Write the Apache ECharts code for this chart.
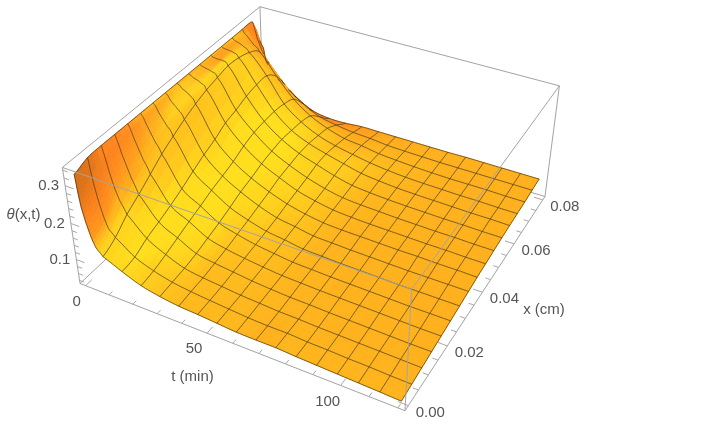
<!DOCTYPE html>
<html>
<head>
<meta charset="utf-8">
<style>html,body{margin:0;padding:0;background:#fff}#chart{width:726px;height:446px}</style>
<script src="https://cdn.jsdelivr.net/npm/echarts@6/dist/echarts.min.js"></script>
</head>
<body>
<div id="chart"></div>
<script>
// Moisture content theta(x, t): rows follow timeValues, columns follow depthValues.
const timeValues = [0, 0.5, 1, 2, 3.5, 5, 7.5, 15, 22.5, 30, 37.5, 45, 52.5, 60, 67.5, 75, 82.5, 90, 97.5, 105, 112.5, 120];
const depthValues = [0, 0.005, 0.01, 0.015, 0.02, 0.025, 0.03, 0.035, 0.04, 0.045, 0.05, 0.055, 0.06, 0.065, 0.07, 0.075, 0.08];
const thetaRows = [
  [.325,.338,.34,.34,.34,.34,.34,.34,.34,.34,.34,.34,.34,.34,.34,.338,.24],
  [.275,.305,.325,.33,.333,.335,.337,.338,.338,.338,.338,.338,.338,.338,.335,.33,.222],
  [.24,.275,.31,.32,.325,.33,.333,.336,.337,.337,.337,.337,.337,.335,.33,.318,.205],
  [.204,.235,.275,.295,.305,.315,.32,.325,.33,.333,.335,.336,.336,.333,.325,.295,.19],
  [.165,.19,.235,.265,.28,.295,.305,.315,.325,.33,.333,.335,.335,.33,.315,.27,.175],
  [.14,.16,.205,.235,.255,.275,.29,.305,.318,.325,.33,.335,.333,.325,.305,.25,.165],
  [.122,.141,.172,.195,.22,.245,.265,.283,.298,.31,.318,.325,.322,.312,.29,.225,.15],
  [.099,.105,.123,.136,.15,.166,.184,.201,.215,.233,.242,.254,.26,.26,.232,.176,.118],
  [.079,.085,.096,.109,.122,.134,.147,.157,.168,.183,.193,.197,.198,.193,.18,.139,.092],
  [.068,.072,.076,.083,.093,.103,.115,.128,.137,.148,.155,.16,.158,.155,.145,.115,.083],
  [.061,.065,.068,.074,.08,.088,.096,.105,.114,.124,.13,.135,.135,.13,.123,.105,.083],
  [.058,.06,.063,.068,.072,.077,.082,.088,.096,.103,.11,.118,.12,.115,.108,.098,.087],
  [.054,.056,.058,.062,.066,.07,.075,.08,.084,.09,.095,.102,.107,.105,.102,.095,.087],
  [.05,.052,.055,.058,.061,.064,.067,.071,.076,.081,.085,.09,.095,.096,.094,.09,.087],
  [.049,.05,.052,.055,.059,.062,.065,.069,.073,.077,.081,.085,.089,.09,.09,.088,.087],
  [.049,.05,.051,.054,.057,.06,.063,.067,.072,.075,.079,.082,.085,.086,.087,.087,.087],
  [.046,.047,.049,.052,.056,.059,.062,.066,.071,.074,.077,.08,.083,.084,.085,.086,.087],
  [.044,.046,.048,.051,.055,.058,.061,.065,.07,.073,.076,.079,.082,.083,.084,.086,.088],
  [.042,.044,.047,.05,.054,.057,.06,.064,.07,.072,.075,.078,.081,.082,.084,.086,.088],
  [.04,.043,.046,.049,.053,.056,.06,.064,.069,.072,.075,.078,.08,.082,.084,.086,.088],
  [.038,.041,.045,.048,.052,.056,.06,.064,.069,.071,.074,.077,.08,.081,.083,.086,.088],
  [.036,.04,.044,.048,.052,.056,.06,.064,.068,.071,.074,.077,.079,.081,.083,.086,.088]
];
const meshTimes = [7.5, 15, 22.5, 30, 37.5, 45, 52.5, 60, 67.5, 75, 82.5, 90, 97.5, 105, 112.5];
const timeTicks = [0, 10, 20, 30, 40, 50, 60, 70, 80, 90, 100, 110, 120];
const timeTickLabels = {0: '0', 50: '50', 100: '100'};
const depthTicks = [0, 0.005, 0.01, 0.015, 0.02, 0.025, 0.03, 0.035, 0.04, 0.045, 0.05, 0.055, 0.06, 0.065, 0.07, 0.075, 0.08];
const depthTickLabels = {0: '0.00', 0.02: '0.02', 0.04: '0.04', 0.06: '0.06', 0.08: '0.08'};
const thetaTicks = [0.04, 0.06, 0.08, 0.1, 0.12, 0.14, 0.16, 0.18, 0.2, 0.22, 0.24, 0.26, 0.28, 0.3, 0.32, 0.34];
const thetaTickLabels = {0.1: '0.1', 0.2: '0.2', 0.3: '0.3'};

// Extent of the bounding box in data units.
const timeRange = [-2.4, 122.4];
const depthRange = [-0.0016, 0.0816];
const thetaRange = [0.031, 0.347];

// Screen position of the seven visible box corners, used to calibrate the camera.
const boxCorners = [
  [0, 0, 0, 80, 283.3], [1, 0, 0, 405, 410.7], [1, 1, 0, 545, 196.7],
  [0, 0, 1, 62.3, 167.7], [1, 0, 1, 411.7, 289], [1, 1, 1, 559.3, 85.7], [0, 1, 1, 260, 6.7]
];

// Green channel of the surface against the tilt of the facet towards later times.
const tiltStops = [0, 0.3, 0.5, 0.75, 0.9, 0.97, 1];
const greenStops = [176, 206, 224, 222, 192, 160, 150];

// Least-squares fit of a projective camera through the corner positions.
function fitCamera(samples) {
  const rows = [], rhs = [];
  samples.forEach(function (s) {
    const u = s[0], v = s[1], w = s[2], X = s[3], Y = s[4];
    rows.push([u, v, w, 1, 0, 0, 0, 0, -X * u, -X * v, -X * w]); rhs.push(X);
    rows.push([0, 0, 0, 0, u, v, w, 1, -Y * u, -Y * v, -Y * w]); rhs.push(Y);
  });
  const n = 11, m = [];
  for (let a = 0; a < n; a++) {
    m[a] = [];
    for (let b = 0; b <= n; b++) {
      let sum = 0;
      rows.forEach(function (r, k) { sum += r[a] * (b === n ? rhs[k] : r[b]); });
      m[a][b] = sum;
    }
    m[a][a] += 1e-9;
  }
  for (let c = 0; c < n; c++) {
    let p = c;
    for (let r = c + 1; r < n; r++) if (Math.abs(m[r][c]) > Math.abs(m[p][c])) p = r;
    const t = m[c]; m[c] = m[p]; m[p] = t;
    for (let r = 0; r < n; r++) {
      if (r === c) continue;
      const f = m[r][c] / m[c][c];
      for (let b = c; b <= n; b++) m[r][b] -= f * m[c][b];
    }
  }
  return m.map(function (r, i) { return r[n] / r[i]; });
}
const cam = fitCamera(boxCorners);

function projectUnit(u, v, w) {
  const d = cam[8] * u + cam[9] * v + cam[10] * w + 1;
  return [(cam[0] * u + cam[1] * v + cam[2] * w + cam[3]) / d,
          (cam[4] * u + cam[5] * v + cam[6] * w + cam[7]) / d];
}
function toUnit(t, x, z) {
  return [(t - timeRange[0]) / (timeRange[1] - timeRange[0]),
          (x - depthRange[0]) / (depthRange[1] - depthRange[0]),
          (z - thetaRange[0]) / (thetaRange[1] - thetaRange[0])];
}
function project(t, x, z) {
  const q = toUnit(t, x, z);
  return projectUnit(q[0], q[1], q[2]);
}

const lastRow = timeValues.length - 1, lastCol = depthValues.length - 1;

// Smooth lookup inside the table, addressed by fractional row and column.
function cr(p0, p1, p2, p3, s) {
  return p1 + 0.5 * s * (p2 - p0 + s * (2 * p0 - 5 * p1 + 4 * p2 - p3 + s * (3 * (p1 - p2) + p3 - p0)));
}
function thetaAt(ri, ci) {
  const r0 = Math.min(Math.floor(ri), lastRow - 1), c0 = Math.min(Math.floor(ci), lastCol - 1);
  const a = ri - r0, b = ci - c0, col = [];
  for (let k = -1; k <= 2; k++) {
    const row = thetaRows[Math.max(0, Math.min(lastRow, r0 + k))];
    col.push(cr(row[Math.max(0, c0 - 1)], row[c0], row[c0 + 1], row[Math.min(lastCol, c0 + 2)], b));
  }
  return Math.min(cr(col[0], col[1], col[2], col[3], a), 0.341);
}
function timeAt(ri) {
  const r0 = Math.min(Math.floor(ri), lastRow - 1);
  return timeValues[r0] + (ri - r0) * (timeValues[r0 + 1] - timeValues[r0]);
}
function depthAt(ci) {
  const c0 = Math.min(Math.floor(ci), lastCol - 1);
  return depthValues[c0] + (ci - c0) * (depthValues[c0 + 1] - depthValues[c0]);
}
function surfacePoint(ri, ci) { return project(timeAt(ri), depthAt(ci), thetaAt(ri, ci)); }

function greenForTilt(tilt) {
  const v = Math.max(0, Math.min(1, tilt));
  let k = 0;
  while (k < tiltStops.length - 2 && v > tiltStops[k + 1]) k++;
  const f = (v - tiltStops[k]) / (tiltStops[k + 1] - tiltStops[k]);
  return greenStops[k] + f * (greenStops[k + 1] - greenStops[k]);
}

// Surface colour from a smoothed normal in box proportions.
function shade(ri, ci) {
  const spreadT = 0.8, spreadX = 1.2;
  const rA = Math.max(0, ri - spreadT), rB = Math.min(lastRow, ri + spreadT);
  const cA = Math.max(0, ci - spreadX), cB = Math.min(lastCol, ci + spreadX);
  const pu0 = toUnit(timeAt(rA), depthAt(ci), thetaAt(rA, ci)), pu1 = toUnit(timeAt(rB), depthAt(ci), thetaAt(rB, ci));
  const pv0 = toUnit(timeAt(ri), depthAt(cA), thetaAt(ri, cA)), pv1 = toUnit(timeAt(ri), depthAt(cB), thetaAt(ri, cB));
  const dU = -0.4 * (pu1[2] - pu0[2]) / (pu1[0] - pu0[0]);
  const dV = -0.4 * (pv1[2] - pv0[2]) / (pv1[1] - pv0[1]);
  const len = Math.sqrt(dU * dU + dV * dV + 1);
  const nu = dU / len, nv = dV / len, nz = 1 / len;
  let g = greenForTilt(nu);
  g -= nv > 0 ? 100 * nv : 45 * nv * nv;
  // The rounded crest along the start of the run catches less of the light.
  const crest = Math.max(0, 1 - ri / 7);
  g -= 42 * crest;
  g = Math.max(132, g);
  const dark = nz < 0.2 ? 0.78 + 1.1 * nz : 1;
  return 'rgb(' + Math.round(255 * dark) + ',' + Math.round(g * dark) + ',' + Math.round(28 * dark) + ')';
}

// A point of the surface is visible when its facet still faces the camera.
function facesCamera(ri, ci) {
  const r = Math.min(ri, lastRow - 0.1), c = Math.min(ci, lastCol - 0.1);
  const p = surfacePoint(r, c), pu = surfacePoint(r + 0.1, c), pv = surfacePoint(r, c + 0.1);
  return (pu[0] - p[0]) * (pv[1] - p[1]) - (pu[1] - p[1]) * (pv[0] - p[0]) < 0;
}

// Facets are listed from the far corner of the box to the near one so they overlap correctly.
const FACETS = 3;
const facetData = [];
for (let r = 0; r < lastRow; r++) {
  for (let a = 0; a < FACETS; a++) {
    for (let c = lastCol - 1; c >= 0; c--) {
      for (let b = FACETS - 1; b >= 0; b--) {
        facetData.push([r + a / FACETS, c + b / FACETS]);
      }
    }
  }
}

// One mesh or rim curve, split into the runs that face the camera.
function surfaceRuns(kind, index) {
  const runs = [];
  let run = [];
  const n = kind === 'time' ? lastCol : lastRow;
  for (let s = 0; s <= n * 6; s++) {
    const k = s / 6;
    const r = kind === 'time' ? index : k, c = kind === 'time' ? k : index;
    const probeC = kind === 'depth' && index === lastCol ? lastCol - 0.25 : c;
    if (facesCamera(r, probeC)) {
      run.push(surfacePoint(r, c));
    } else if (run.length) {
      runs.push(run); run = [];
    }
  }
  if (run.length > 1) runs.push(run);
  return runs;
}
const meshRuns = [], rimRuns = [];
meshTimes.forEach(function (t) {
  surfaceRuns('time', timeValues.indexOf(t)).forEach(function (run) { meshRuns.push(run); });
});
for (let c = 1; c < lastCol; c++) {
  surfaceRuns('depth', c).forEach(function (run) { meshRuns.push(run); });
}
surfaceRuns('time', 0).concat(surfaceRuns('time', lastRow), surfaceRuns('depth', 0), surfaceRuns('depth', lastCol))
  .forEach(function (run) { rimRuns.push(run); });

const boxColor = '#a3a3a3';
const tickColor = '#a8a8a8';
const textColor = '#555555';
const labelFont = '15px "Liberation Sans", Arial, sans-serif';

function polyline(api, pts, color, width) {
  return {
    type: 'polyline', silent: true,
    shape: { points: pts.map(function (p) { return api.coord(p); }) },
    style: { fill: null, stroke: color, lineWidth: width }
  };
}
function edge(api, a, b) {
  return polyline(api, [projectUnit(a[0], a[1], a[2]), projectUnit(b[0], b[1], b[2])], boxColor, 1);
}
function label(api, p, text, rich) {
  const c = api.coord(p);
  const style = { x: c[0], y: c[1], text: text, fill: textColor, font: labelFont, align: 'center', verticalAlign: 'middle' };
  if (rich) style.rich = rich;
  return { type: 'text', silent: true, style: style };
}

// Edges of the box that lie behind the surface.
const backEdges = [
  [[0, 0, 0], [0, 1, 0]], [[0, 1, 0], [1, 1, 0]], [[0, 1, 0], [0, 1, 1]],
  [[0, 0, 1], [0, 1, 1]], [[0, 1, 1], [1, 1, 1]], [[1, 1, 0], [1, 1, 1]],
  [[0, 0, 0], [0, 0, 1]], [[0, 0, 0], [1, 0, 0]], [[1, 0, 0], [1, 1, 0]]
];
// Edges of the box that pass in front of it.
const frontEdges = [
  [[0, 0, 1], [1, 0, 1]], [[1, 0, 1], [1, 1, 1]], [[1, 0, 0], [1, 0, 1]]
];

const tickItems = [];
timeTicks.forEach(function (v) { tickItems.push({ axis: 't', value: v, major: v % 50 === 0 }); });
depthTicks.forEach(function (v) { tickItems.push({ axis: 'x', value: v, major: depthTickLabels[v] !== undefined }); });
thetaTicks.forEach(function (v) { tickItems.push({ axis: 'z', value: v, major: thetaTickLabels[v] !== undefined }); });

function tickEnds(item) {
  const len = item.major ? 0.028 : 0.016;
  let q;
  if (item.axis === 't') {
    q = toUnit(item.value, depthRange[0], thetaRange[0]);
    return [projectUnit(q[0], 0, 0), projectUnit(q[0], len, 0)];
  }
  if (item.axis === 'x') {
    q = toUnit(timeRange[1], item.value, thetaRange[0]);
    return [projectUnit(1, q[1], 0), projectUnit(1 - len, q[1], 0)];
  }
  q = toUnit(timeRange[0], depthRange[0], item.value);
  return [projectUnit(0, 0, q[2]), projectUnit(len, 0, q[2])];
}

const textItems = [];
Object.keys(timeTickLabels).forEach(function (k) {
  const e = tickEnds({ axis: 't', value: +k, major: true })[0];
  textItems.push({ p: [e[0] - (+k === 0 ? 9 : 13), e[1] + 16], text: timeTickLabels[k] });
});
Object.keys(depthTickLabels).forEach(function (k) {
  const e = tickEnds({ axis: 'x', value: +k, major: true })[0];
  textItems.push({ p: [e[0] + 22, e[1] + 7], text: depthTickLabels[k] });
});
Object.keys(thetaTickLabels).forEach(function (k) {
  const e = tickEnds({ axis: 'z', value: +k, major: true })[0];
  textItems.push({ p: [e[0] - 16.5, e[1]], text: thetaTickLabels[k] });
});
textItems.push({ p: [192.5, 377], text: 't (min)' });
textItems.push({ p: [544, 310], text: 'x (cm)' });
textItems.push({ p: [23.5, 215], text: '{i|θ}(x,t)', rich: { i: { fontStyle: 'italic', font: 'italic 15px "Liberation Sans", Arial, sans-serif', fill: textColor } } });

const chart = echarts.init(document.getElementById('chart'), null, { renderer: 'canvas' });
function customLayer(name, data, z, render) {
  return {
    name: name, type: 'custom', coordinateSystem: 'cartesian2d', data: data, z: z,
    clip: false, silent: true, animation: false,
    encode: { x: [], y: [] },
    renderItem: function (params, api) { return render(data[params.dataIndex], api); }
  };
}

chart.setOption({
  animation: false,
  backgroundColor: '#ffffff',
  grid: { left: 0, right: 0, top: 0, bottom: 0 },
  xAxis: { type: 'value', min: 0, max: 726, show: false },
  yAxis: { type: 'value', min: 0, max: 446, inverse: true, show: false },
  series: [
    customLayer('box-back', backEdges, 1, function (d, api) { return edge(api, d[0], d[1]); }),
    customLayer('ticks', tickItems, 2, function (d, api) { return polyline(api, tickEnds(d), tickColor, 1); }),
    customLayer('surface', facetData, 3, function (d, api) {
      const s = 1 / FACETS, r = d[0], c = d[1];
      const color = shade(r + s / 2, c + s / 2);
      const corners = [surfacePoint(r, c), surfacePoint(r + s, c), surfacePoint(r + s, c + s), surfacePoint(r, c + s)];
      return {
        type: 'polygon', silent: true,
        shape: { points: corners.map(function (p) { return api.coord(p); }) },
        style: { fill: color, stroke: color, lineWidth: 0.7 }
      };
    }),
    customLayer('mesh', meshRuns, 4, function (d, api) {
      return polyline(api, d, 'rgba(70,60,30,0.72)', 1);
    }),
    customLayer('rim', rimRuns, 5, function (d, api) { return polyline(api, d, 'rgba(50,35,10,0.7)', 0.9); }),
    customLayer('box-front', frontEdges, 6, function (d, api) { return edge(api, d[0], d[1]); }),
    customLayer('labels', textItems, 7, function (d, api) { return label(api, d.p, d.text, d.rich); })
  ]
});
</script>
</body>
</html>
